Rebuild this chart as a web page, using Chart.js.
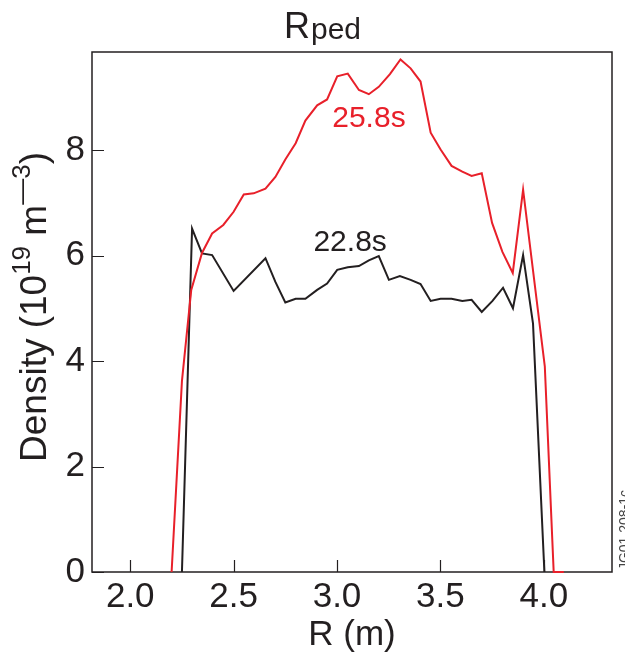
<!DOCTYPE html>
<html>
<head>
<meta charset="utf-8">
<script src="https://cdn.jsdelivr.net/npm/chart.js@4.4.1/dist/chart.umd.min.js"></script>
<style>
  body { margin: 0; background: #fff; }
  canvas { display: block; }
</style>
</head>
<body>
<canvas id="grafico" width="625" height="654"></canvas>
<script>
// perfil a 25.8s (rojo)
const r258 = [2.200, 2.250, 2.295, 2.347, 2.396, 2.450, 2.500, 2.549, 2.597, 2.654, 2.702, 2.750, 2.800, 2.847, 2.904, 2.952,
  3.001, 3.052, 3.106, 3.154, 3.202, 3.256, 3.307, 3.356, 3.404, 3.453, 3.501, 3.554, 3.606, 3.651, 3.700, 3.750, 3.800,
  3.850, 3.900, 4.005, 4.048, 4.097];
const n258 = [0, 3.62, 5.35, 6.05, 6.42, 6.58, 6.83, 7.16, 7.18, 7.27, 7.49, 7.82, 8.13, 8.56, 8.85, 8.96,
  9.40, 9.45, 9.14, 9.06, 9.20, 9.44, 9.72, 9.55, 9.30, 8.33, 8.01, 7.70, 7.59, 7.51, 7.56, 6.62, 6.07,
  5.67, 7.25, 3.90, 0, 0];

// perfil a 22.8s (negro)
const r228 = [2.250, 2.299, 2.347, 2.396, 2.500, 2.654, 2.702, 2.750, 2.800, 2.847, 2.904, 2.952, 3.001, 3.052, 3.106,
  3.154, 3.202, 3.251, 3.304, 3.356, 3.404, 3.453, 3.501, 3.554, 3.606, 3.651, 3.700, 3.752, 3.803, 3.851, 3.900,
  3.948, 4.003];
const n228 = [0, 6.51, 6.04, 6.01, 5.33, 5.95, 5.50, 5.11, 5.18, 5.18, 5.35, 5.47, 5.73, 5.78, 5.80,
  5.91, 5.99, 5.54, 5.61, 5.54, 5.46, 5.14, 5.18, 5.18, 5.14, 5.16, 4.93, 5.14, 5.39, 5.00, 6.01,
  4.71, 0];

const xTicks = [2.0, 2.5, 3.0, 3.5, 4.0];
const yTicks = [0, 2, 4, 6, 8];

const fuente = '"Liberation Sans", Arial, sans-serif';
const negro = '#231f20';
const rojo = '#e8202a';

function toPoints(xs, ys) {
  return xs.map((x, i) => ({ x: x, y: ys[i] }));
}

// dibuja piezas de texto seguidas (para superindices)
function textoPiezas(ctx, piezas, x, y) {
  let total = 0;
  piezas.forEach(p => { ctx.font = p.size + 'px ' + fuente; total += ctx.measureText(p.t).width; });
  let cx = x - total / 2;
  piezas.forEach(p => {
    ctx.font = p.size + 'px ' + fuente;
    ctx.fillText(p.t, cx, y - (p.up || 0));
    cx += ctx.measureText(p.t).width;
  });
}

const decor = {
  id: 'decor',
  // marco y ticks debajo de las curvas
  beforeDatasetsDraw(chart) {
    const ctx = chart.ctx, a = chart.chartArea;
    const sx = chart.scales.x, sy = chart.scales.y;
    ctx.save();
    ctx.strokeStyle = negro;
    ctx.lineWidth = 1.5;
    ctx.strokeRect(a.left, a.top, a.right - a.left, a.bottom - a.top);

    ctx.beginPath();
    xTicks.forEach(v => {
      const px = Math.round(sx.getPixelForValue(v)) + 0.5;
      ctx.moveTo(px, a.bottom); ctx.lineTo(px, a.bottom - 12);
    });
    yTicks.forEach(v => {
      const py = Math.round(sy.getPixelForValue(v)) + 0.5;
      ctx.moveTo(a.left, py); ctx.lineTo(a.left + 12, py);
    });
    ctx.lineWidth = 1.2;
    ctx.stroke();
    ctx.restore();
  },
  afterDraw(chart) {
    const ctx = chart.ctx, a = chart.chartArea;
    const sx = chart.scales.x, sy = chart.scales.y;
    ctx.save();
    ctx.textAlign = 'left';
    ctx.textBaseline = 'alphabetic';

    // etiquetas de las curvas
    ctx.font = '30px ' + fuente;
    ctx.fillStyle = rojo;
    ctx.fillText('25.8s', sx.getPixelForValue(2.977), sy.getPixelForValue(8.44));
    ctx.fillStyle = negro;
    ctx.fillText('22.8s', sx.getPixelForValue(2.886), sy.getPixelForValue(6.09));

    // titulo
    ctx.font = '36px ' + fuente;
    ctx.fillText('R', 284, 38);
    const wR = ctx.measureText('R').width;
    ctx.font = '30px ' + fuente;
    ctx.fillText('ped', 284 + wR + 1, 39);

    // titulo eje x
    textoPiezas(ctx, [{ t: 'R (m)', size: 35 }], (a.left + a.right) / 2, 645);

    // titulo eje y
    ctx.save();
    ctx.translate(46, 307);
    ctx.rotate(-Math.PI / 2);
    textoPiezas(ctx, [
      { t: 'Density (10', size: 37 },
      { t: '19', size: 26, up: 16 },
      { t: ' m', size: 37 },
      { t: '\u20143', size: 26, up: 16 },
      { t: ')', size: 37 }
    ], 0, 0);
    ctx.restore();

    // codigo de figura (cortado por el borde)
    ctx.save();
    ctx.translate(629, 530);
    ctx.rotate(-Math.PI / 2);
    ctx.font = '14px ' + fuente;
    ctx.fillStyle = '#444';
    ctx.textAlign = 'center';
    ctx.fillText('JG01.208-1c', 0, 0);
    ctx.restore();

    ctx.restore();
  }
};

new Chart(document.getElementById('grafico'), {
  type: 'scatter',
  data: {
    datasets: [
      { label: '25.8s', data: toPoints(r258, n258), showLine: true, borderColor: rojo, borderWidth: 2, pointRadius: 0, clip: false },
      { label: '22.8s', data: toPoints(r228, n228), showLine: true, borderColor: negro, borderWidth: 2, pointRadius: 0, clip: false }
    ]
  },
  options: {
    responsive: false,
    animation: false,
    layout: { padding: { top: 52, right: 13, left: 0, bottom: 0 } },
    plugins: { legend: { display: false }, tooltip: { enabled: false } },
    scales: {
      x: {
        type: 'linear',
        min: 1.815,
        max: 4.33,
        afterBuildTicks: s => { s.ticks = xTicks.map(v => ({ value: v })); },
        afterFit: s => { s.height = 82; },
        grid: { display: false, drawTicks: false },
        border: { display: false },
        ticks: {
          padding: 4, color: negro, autoSkip: false, maxRotation: 0,
          font: { family: fuente, size: 35 },
          callback: v => v.toFixed(1)
        }
      },
      y: {
        type: 'linear',
        min: 0,
        max: 9.86,
        afterBuildTicks: s => { s.ticks = yTicks.map(v => ({ value: v })); },
        afterFit: s => { s.width = 92; },
        grid: { display: false, drawTicks: false },
        border: { display: false },
        ticks: {
          padding: 7, color: negro,
          font: { family: fuente, size: 35 },
          callback: v => String(v)
        }
      }
    }
  },
  plugins: [decor]
});
</script>
</body>
</html>
